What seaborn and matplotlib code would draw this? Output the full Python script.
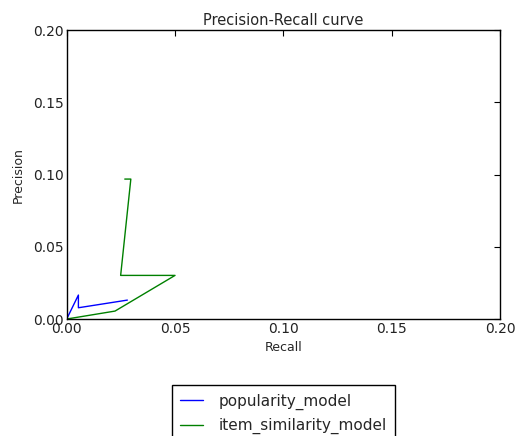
import pandas as pd
import numpy as np
import matplotlib
matplotlib.use("Agg")
import matplotlib.pyplot as plt
import seaborn as sns

# curve points (recall, precision)
pop_recall = [0.0, 0.0054, 0.0054, 0.028]
pop_precision = [0.0, 0.0166, 0.0078, 0.0131]
item_recall = [0.0, 0.0223, 0.050, 0.0249, 0.0296, 0.0268]
item_precision = [0.0, 0.0055, 0.0302, 0.0302, 0.0969, 0.0969]
model_names = ["popularity_model", "item_similarity_model"]

sns.set_style("white")
plt.rcParams['font.family'] = ['DejaVu Sans']

# build a long frame for seaborn
df = pd.concat([
    pd.DataFrame({"recall": pop_recall, "precision": pop_precision, "model": model_names[0]}),
    pd.DataFrame({"recall": item_recall, "precision": item_precision, "model": model_names[1]}),
], ignore_index=True)

fig = plt.figure(figsize=(5.15, 4.36), dpi=100)
ax = fig.add_axes([0.1295, 0.2683, 0.8415, 0.6625])

sns.lineplot(data=df, x="recall", y="precision", hue="model", sort=False,
             estimator=None, palette=["#0000ff", "#008000"], linewidth=1.0, ax=ax)

ax.set_xlim(0, 0.20)
ax.set_ylim(0, 0.20)
ticks = np.arange(0, 0.201, 0.05)
ax.set_xticks(ticks)
ax.set_yticks(ticks)
ax.xaxis.set_major_formatter(matplotlib.ticker.FormatStrFormatter("%.2f"))
ax.yaxis.set_major_formatter(matplotlib.ticker.FormatStrFormatter("%.2f"))
ax.tick_params(direction="in", length=4, width=0.8, top=True, right=True,
               labelsize=10, colors="black", labelcolor="#222222", pad=2)
for s in ax.spines.values():
    s.set_color("black")
    s.set_linewidth(1.0)

ax.set_title("Precision-Recall curve", fontsize=10.5, pad=4)
ax.set_xlabel("Recall", fontsize=9)
ax.set_ylabel("Precision", fontsize=9, labelpad=6)

ax.legend(loc="upper center", bbox_to_anchor=(0.5, -0.202), fontsize=11,
          frameon=True, fancybox=False, edgecolor="black", framealpha=1,
          borderpad=0.55, handlelength=1.5, handletextpad=1.0, labelspacing=0.55)

fig.savefig("out.png", dpi=100)
